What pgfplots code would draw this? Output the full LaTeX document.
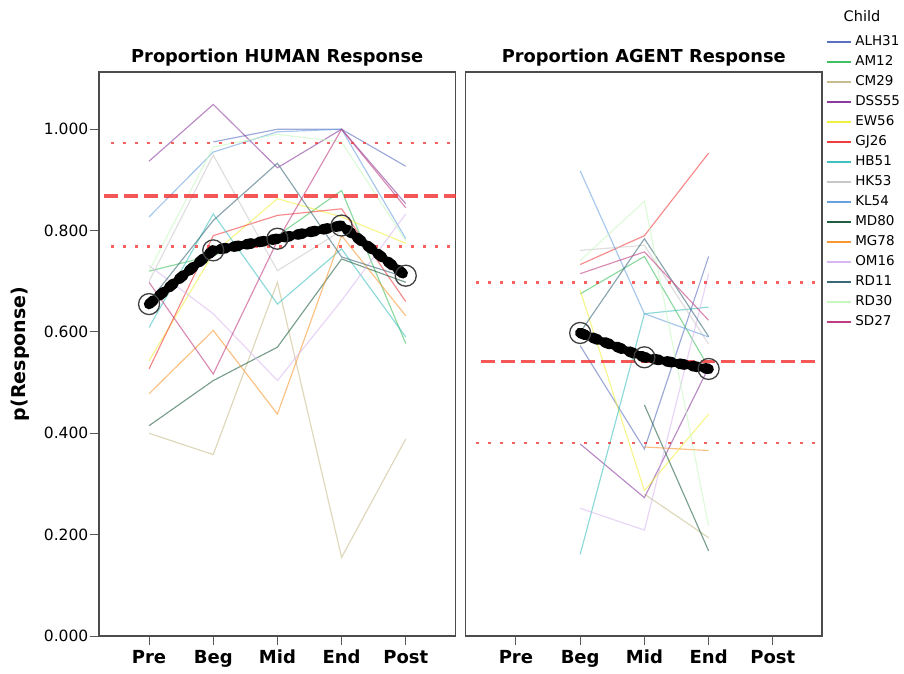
\documentclass[border=0pt]{standalone}
\usepackage{pgfplots}
\usepackage{pgfplotstable}
\pgfplotsset{compat=1.18}
\usepackage{fontspec}
\setmainfont{DejaVu Sans}
\setsansfont{DejaVu Sans}

\definecolor{cALH31}{HTML}{5A6FC0}
\definecolor{cAM12}{HTML}{40C060}
\definecolor{cCM29}{HTML}{C8BC8C}
\definecolor{cDSS55}{HTML}{8A3C9C}
\definecolor{cEW56}{HTML}{F0F040}
\definecolor{cGJ26}{HTML}{F03C3C}
\definecolor{cHB51}{HTML}{40C0C0}
\definecolor{cHK53}{HTML}{C8C8C8}
\definecolor{cKL54}{HTML}{6AA0E0}
\definecolor{cMD80}{HTML}{1F5F3F}
\definecolor{cMG78}{HTML}{F89830}
\definecolor{cOM16}{HTML}{D8B8F0}
\definecolor{cRD11}{HTML}{3A6878}
\definecolor{cRD30}{HTML}{C8F8C0}
\definecolor{cSD27}{HTML}{C03C80}
\definecolor{refred}{HTML}{F23A3A}

\pgfplotstableread{
x ALH31 AM12 CM29 DSS55 EW56 GJ26 HB51 HK53 KL54 MD80 MG78 OM16 RD11 RD30 SD27 Mean
0 nan   0.720 0.400 0.937 0.543 0.527 0.609 0.700 0.827 0.415 0.478 0.731 0.660 0.720 0.698 0.655
1 0.975 0.751 0.358 1.049 0.755 0.790 0.833 0.949 0.955 0.504 0.603 0.636 0.820 0.965 0.517 0.761
2 1.000 0.790 0.698 0.924 0.863 0.830 0.655 0.721 0.995 0.570 0.438 0.504 0.933 0.990 0.780 0.784
3 1.000 0.879 0.155 1.000 0.827 0.843 0.764 0.800 1.000 0.744 0.790 0.662 0.748 0.975 1.000 0.810
4 0.927 0.577 0.389 0.853 0.775 0.660 0.590 0.720 0.784 0.698 0.632 0.833 0.708 0.780 0.845 0.711
}\human

\pgfplotstableread{
x ALH31 AM12 CM29 DSS55 EW56 GJ26 HB51 HK53 KL54 MD80 MG78 OM16 RD11 RD30 SD27 Mean
1 0.573 0.675 nan   0.379 0.682 0.733 0.161 0.761 0.918 nan   nan   0.252 0.599 0.741 0.715 0.598
2 0.369 0.749 0.280 0.273 0.287 0.790 0.636 0.771 0.636 0.456 0.373 0.209 0.784 0.858 0.758 0.550
3 0.749 0.530 0.194 0.530 0.438 0.953 0.649 0.576 0.590 0.168 0.366 0.715 0.591 0.217 0.623 0.527
}\agent

\pgfplotstableread{
x v
-0.70 0.868
4.78 0.868
}\hmid
\pgfplotstableread{
x v
-0.60 0.973
4.78 0.973
}\hup
\pgfplotstableread{
x v
-0.60 0.769
4.78 0.769
}\hlo
\pgfplotstableread{
x v
-0.55 0.5415
4.72 0.5415
}\amid
\pgfplotstableread{
x v
-0.62 0.698
4.72 0.698
}\aup
\pgfplotstableread{
x v
-0.62 0.381
4.72 0.381
}\alo

\pgfplotsset{
  panel/.style={
    scale only axis,
    height=564pt,
    ymin=0, ymax=1.113,
    xtick={0,1,2,3,4},
    xticklabels={Pre,Beg,Mid,End,Post},
    xtick pos=bottom,
    tick align=outside,
    every tick/.style={draw=black!65, line width=1pt},
    major tick length=9pt,
    x tick label style={font=\bfseries\fontsize{18}{18}\selectfont, inner sep=2pt, yshift=-3pt},
    axis line style={draw=black!70, line width=1.3pt},
    unbounded coords=jump,
    clip=false,
    title style={font=\bfseries\fontsize{17.8}{17.8}\selectfont, at={(0.5,1)}, anchor=south, inner sep=0pt, yshift=0pt},
  },
  indiv/.style={line width=1.15pt, draw opacity=0.6, forget plot},
  meanline/.style={black, line width=10.5pt, dash pattern=on 6pt off 7pt, line cap=round, forget plot},
  meancirc/.style={only marks, mark=o, mark size=10.5pt, mark options={draw=black!75, line width=1.3pt}, forget plot},
}

\begin{document}
\begin{tikzpicture}
\path[use as bounding box] (0pt,0pt) rectangle (904pt,673pt);

\begin{axis}[panel,
  at={(99pt,37pt)}, anchor=south west,
  width=356.5pt,
  xmin=-0.78, xmax=4.775,
  ytick={0,0.2,0.4,0.6,0.8,1.0},
  ytick pos=left,
  yticklabel style={font=\fontsize{15.5}{15.5}\selectfont, inner sep=1.5pt, /pgf/number format/.cd, fixed, fixed zerofill, precision=3, assume math mode=true},
  ylabel={p(Response)},
  ylabel style={font=\bfseries\fontsize{19}{19}\selectfont, at={(axis description cs:-0.222,0.5)}, anchor=center},
  title={Proportion HUMAN Response},
]
\pgfplotsinvokeforeach{ALH31,AM12,CM29,DSS55,EW56,GJ26,HB51,HK53,KL54,MD80,MG78,OM16,RD11,RD30,SD27}{
  \addplot[indiv, color=c#1] table[x=x, y=#1] {\human};
}
\addplot[refred, draw opacity=0.85, line width=3.4pt, dash pattern=on 14pt off 6pt, forget plot] table[x=x,y=v] {\hmid};
\addplot[refred, draw opacity=0.8, line width=2.6pt, dash pattern=on 3pt off 9pt, forget plot] table[x=x,y=v] {\hup};
\addplot[refred, draw opacity=0.8, line width=2.6pt, dash pattern=on 3pt off 9pt, forget plot] table[x=x,y=v] {\hlo};
\addplot[meanline] table[x=x, y=Mean] {\human};
\addplot[meancirc] table[x=x, y=Mean] {\human};
\end{axis}

\begin{axis}[panel,
  at={(465.5pt,37pt)}, anchor=south west,
  width=356.5pt,
  xmin=-0.785, xmax=4.765,
  ytick=\empty,
  title={Proportion AGENT Response},
  legend style={at={(1,1)}, anchor=north west, xshift=0.5pt, yshift=38pt,
    draw=none, fill=none, font=\fontsize{13.5}{13.5}\selectfont,
    nodes={inner sep=0pt, text height=9.5pt, text depth=2pt, anchor=west},
    row sep=8.5pt,
    /tikz/every odd column/.append style={column sep=4pt}},
  legend cell align=left,
  legend image code/.code={\draw[#1, draw opacity=1] (0pt,0pt) -- (24pt,0pt);},
]
\pgfplotsinvokeforeach{ALH31,AM12,CM29,DSS55,EW56,GJ26,HB51,HK53,KL54,MD80,MG78,OM16,RD11,RD30,SD27}{
  \addplot[indiv, color=c#1] table[x=x, y=#1] {\agent};
}
\addplot[refred, draw opacity=0.85, line width=3.4pt, dash pattern=on 14pt off 6pt, forget plot] table[x=x,y=v] {\amid};
\addplot[refred, draw opacity=0.8, line width=2.6pt, dash pattern=on 3pt off 9pt, forget plot] table[x=x,y=v] {\aup};
\addplot[refred, draw opacity=0.8, line width=2.6pt, dash pattern=on 3pt off 9pt, forget plot] table[x=x,y=v] {\alo};
\addplot[meanline] table[x=x, y=Mean] {\agent};
\addplot[meancirc] table[x=x, y=Mean] {\agent};
\addlegendimage{draw=cALH31, line width=1.6pt}
\addlegendimage{draw=cAM12, line width=1.6pt}
\addlegendimage{draw=cCM29, line width=1.6pt}
\addlegendimage{draw=cDSS55, line width=1.6pt}
\addlegendimage{draw=cEW56, line width=1.6pt}
\addlegendimage{draw=cGJ26, line width=1.6pt}
\addlegendimage{draw=cHB51, line width=1.6pt}
\addlegendimage{draw=cHK53, line width=1.6pt}
\addlegendimage{draw=cKL54, line width=1.6pt}
\addlegendimage{draw=cMD80, line width=1.6pt}
\addlegendimage{draw=cMG78, line width=1.6pt}
\addlegendimage{draw=cOM16, line width=1.6pt}
\addlegendimage{draw=cRD11, line width=1.6pt}
\addlegendimage{draw=cRD30, line width=1.6pt}
\addlegendimage{draw=cSD27, line width=1.6pt}
\legend{ALH31,AM12,CM29,DSS55,EW56,GJ26,HB51,HK53,KL54,MD80,MG78,OM16,RD11,RD30,SD27}
\end{axis}

\node[font=\fontsize{14.5}{14.5}\selectfont, anchor=center] at (862pt,657pt) {Child};
\end{tikzpicture}
\end{document}
